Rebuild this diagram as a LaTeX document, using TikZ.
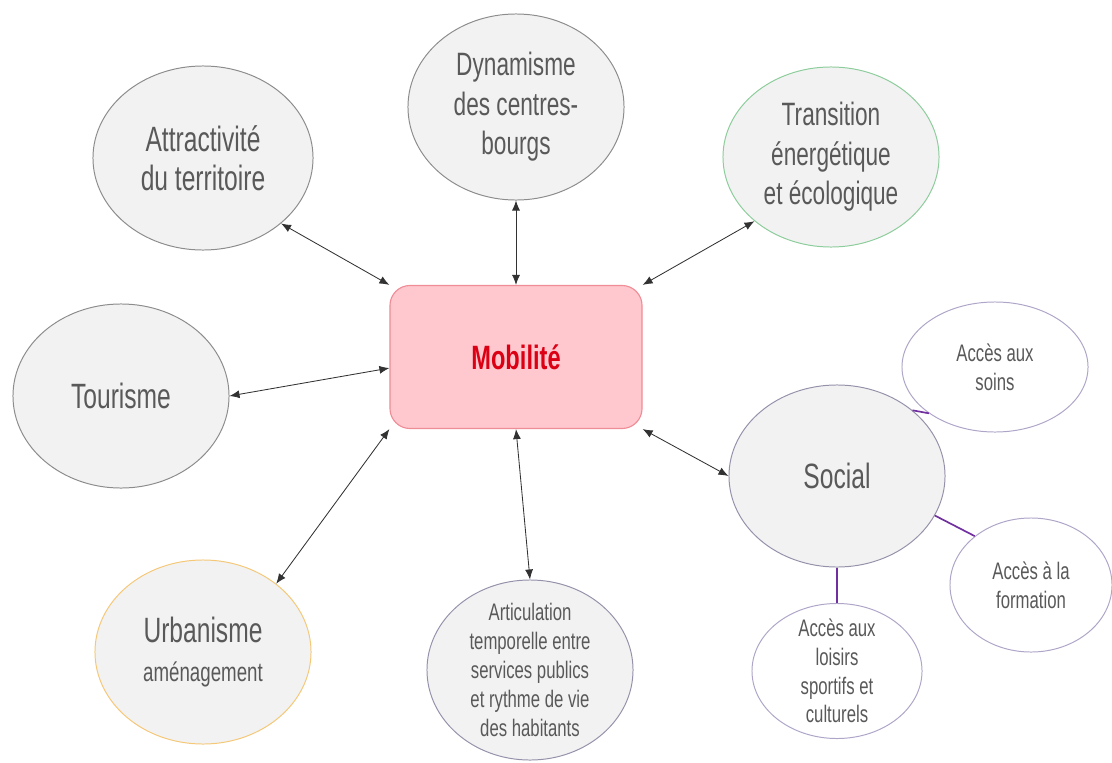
\documentclass[tikz,border=0pt]{standalone}
\usepackage{fontspec}
\setmainfont{Liberation Sans}[FakeStretch=0.7]
\usetikzlibrary{arrows.meta,shapes.geometric}
\definecolor{txtgray}{RGB}{89,89,89}
\definecolor{bubblegray}{RGB}{242,242,242}
\definecolor{rimgray}{RGB}{140,140,140}
\definecolor{rimgreen}{RGB}{140,205,155}
\definecolor{rimorange}{RGB}{245,200,120}
\definecolor{rimpurple}{RGB}{150,145,170}
\definecolor{rimlight}{RGB}{175,165,200}
\definecolor{mobfill}{RGB}{255,199,206}
\definecolor{mobrim}{RGB}{240,140,150}
\definecolor{mobred}{RGB}{220,0,20}
\definecolor{branchviolet}{RGB}{112,48,160}
\definecolor{linkgray}{RGB}{50,50,50}

\begin{document}
\begin{tikzpicture}[x=0.025cm,y=-0.025cm]
	\tikzstyle{bubble}=[ellipse,draw=rimgray,fill=bubblegray,line width=0.7pt,inner sep=-8pt,text=txtgray,align=center,font=\fontsize{25}{28}\selectfont]
	\tikzstyle{midtext}=[font=\fontsize{23}{28}\selectfont]
	\tikzstyle{smalltext}=[font=\fontsize{17}{20.5}\selectfont]
	\tikzstyle{subbubble}=[bubble,fill=white,draw=rimlight,smalltext]
	\tikzstyle{centre}=[rectangle,rounded corners=0.5cm,draw=mobrim,fill=mobfill,line width=0.8pt,text=mobred,font=\fontsize{24}{28}\selectfont\bfseries]
	\tikzstyle{link}=[line width=0.6pt,draw=linkgray,{Latex[length=2.5mm,width=2mm]}-{Latex[length=2.5mm,width=2mm]}]
	\tikzstyle{branch}=[line width=1.2pt,draw=branchviolet]
	\useasboundingbox (0,0) rectangle (1112,763);
	\node (mob)    at (516,357) [centre,minimum width=6.3cm,minimum height=3.575cm] {Mobilité};
	\node (attr)   at (203,158) [bubble,minimum width=5.5cm,minimum height=4.6cm] {Attractivité\\du territoire};
	\node (dyn)    at (516,107) [bubble,midtext,minimum width=5.4cm,minimum height=4.65cm] {Dynamisme\\des centres-\\bourgs};
	\node (trans)  at (831,157) [bubble,midtext,draw=rimgreen,minimum width=5.4cm,minimum height=4.5cm] {Transition\\énergétique\\et écologique};
	\node (tour)   at (121,396) [bubble,minimum width=5.4cm,minimum height=4.6cm] {Tourisme};
	\node (urb)    at (203,652) [bubble,draw=rimorange,minimum width=5.4cm,minimum height=4.6cm] {Urbanisme\\{\fontsize{19}{22}\selectfont aménagement}};
	\node (art)    at (530,670) [bubble,smalltext,draw=rimpurple,minimum width=5.15cm,minimum height=4.5cm] {Articulation\\temporelle entre\\services publics\\et rythme de vie\\des habitants};
	\node (social) at (837,476) [bubble,draw=rimpurple,minimum width=5.4cm,minimum height=4.55cm] {Social};
	\node (soins)  at (995,367) [subbubble,minimum width=4.65cm,minimum height=3.25cm] {Accès aux\\soins};
	\node (form)   at (1031,585) [subbubble,minimum width=4.05cm,minimum height=3.35cm] {Accès à la\\formation};
	\node (lois)   at (837,671) [subbubble,minimum width=4.25cm,minimum height=3.375cm] {Accès aux\\loisirs\\sportifs et\\culturels};
	\draw [link] (attr.-40)  -- (mob.north west);
	\draw [link] (dyn.south) -- (mob.north);
	\draw [link] (trans.220) -- (mob.north east);
	\draw [link] (tour.east) -- (mob.185);
	\draw [link] (urb.43)    -- (mob.south west);
	\draw [link] (art.north) -- (mob.south);
	\draw [link] (social.west) -- (mob.south east);
	\draw [branch] (social.41)  -- (soins.215);
	\draw [branch] (social.-22) -- (form.139);
	\draw [branch] (social.south) -- (lois.north);
\end{tikzpicture}
\end{document}
